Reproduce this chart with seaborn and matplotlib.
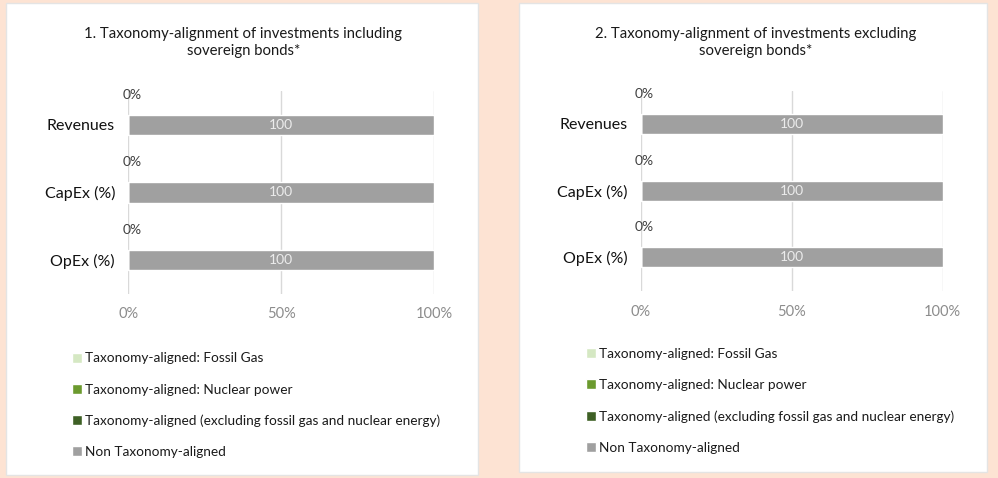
import matplotlib
matplotlib.use("Agg")
import matplotlib.pyplot as plt
import seaborn as sns
from matplotlib.patches import Rectangle

# ---------------- data ----------------
categories = ["Revenues", "CapEx (%)", "OpEx (%)"]
series_names = [
    "Taxonomy-aligned: Fossil Gas",
    "Taxonomy-aligned: Nuclear power",
    "Taxonomy-aligned (excluding fossil gas and nuclear energy)",
    "Non Taxonomy-aligned",
]
series_colors = ["#d5e8c3", "#6b9a2e", "#3e6025", "#a0a0a0"]

incl_fossil_gas = [0, 0, 0]
incl_nuclear = [0, 0, 0]
incl_aligned_excl = [0, 0, 0]
incl_non_aligned = [100, 100, 100]

excl_fossil_gas = [0, 0, 0]
excl_nuclear = [0, 0, 0]
excl_aligned_excl = [0, 0, 0]
excl_non_aligned = [100, 100, 100]

titles = [
    "1. Taxonomy-alignment of investments including\nsovereign bonds*",
    "2. Taxonomy-alignment of investments excluding\nsovereign bonds*",
]
x_ticks = [0, 50, 100]
x_tick_labels = ["0%", "50%", "100%"]

# ---------------- style ----------------
sns.set_style("white")
plt.rcParams["font.family"] = ["Lato", "DejaVu Sans"]

W, H = 998, 478
BG = "#fde3d3"
fig = plt.figure(figsize=(W / 100, H / 100), dpi=100, facecolor=BG)


def fx(px):
    return px / W


def fy(py):
    return 1 - py / H


def panel(x0, y0, x1, y1):
    r = Rectangle((fx(x0), fy(y1)), fx(x1 - x0), (y1 - y0) / H,
                  transform=fig.transFigure, facecolor="white",
                  edgecolor="#e4e4e4", lw=1.0, zorder=-10)
    fig.add_artist(r)


panel(6, 3, 478, 475)
panel(519, 3, 987, 471.5)


def draw_chart(ax, series, title, title_xy, legend_xy):
    ends = []
    run = [0] * len(categories)
    starts = []
    for s in series:
        starts.append(list(run))
        run = [a + b for a, b in zip(run, s)]
        ends.append(list(run))
    handles = {}
    for k in range(len(series) - 1, -1, -1):
        sns.barplot(x=ends[k], y=categories, orient="h", color=series_colors[k],
                    saturation=1, width=0.3, ax=ax, legend=False)
        handles[k] = ax.containers[-1]
    # value labels of the non aligned series, centred in the segment
    for i, (s0, v) in enumerate(zip(starts[3], series[3])):
        ax.text(s0 + v / 2, i, f"{v:g}", ha="center", va="center",
                color="#ececec", fontsize=10)
    # aligned (excluding) labels placed above the bars
    for i, (s0, v) in enumerate(zip(starts[2], series[2])):
        ax.annotate(f"{v:g}%", xy=(s0 + v, i - 0.47), xytext=(2.5, -1),
                    textcoords="offset points", ha="center", va="center",
                    color="#404040", fontsize=10, annotation_clip=False)
    ax.set_xlim(0, 100)
    ax.set_ylim(2.5, -0.5)
    ax.set_xticks(x_ticks)
    ax.set_xticklabels(x_tick_labels)
    ax.set_xlabel("")
    ax.set_ylabel("")
    ax.grid(axis="x", color="#d9d9d9", lw=1)
    ax.grid(axis="y", visible=False)
    ax.set_axisbelow(True)
    for sp in ax.spines.values():
        sp.set_visible(False)
    ax.tick_params(axis="x", length=0, pad=10, labelsize=10.5, labelcolor="#8c8c8c")
    ax.tick_params(axis="y", length=0, pad=9.5, labelsize=11.5, labelcolor="#111111")
    ax.patch.set_alpha(0)

    fig.text(fx(title_xy[0]), fy(title_xy[1]), title, ha="center", va="center",
             fontsize=10.7, color="#1a1a1a", linespacing=1.3, multialignment="center")

    leg = ax.legend([handles[k] for k in range(4)], series_names,
                    loc="upper left", bbox_to_anchor=(fx(legend_xy[0]), fy(legend_xy[1])),
                    bbox_transform=fig.transFigure, frameon=False, fontsize=9.8,
                    handlelength=0.72, handleheight=0.75, handletextpad=0.25,
                    labelspacing=1.4, borderpad=0, borderaxespad=0)
    for t in leg.get_texts():
        t.set_color("#1a1a1a")


ax1 = fig.add_axes([fx(128.3), fy(293.6), fx(434 - 128.3), (293.6 - 91.2) / H])
ax2 = fig.add_axes([fx(640.7), fy(290.8), fx(942.7 - 640.7), (290.8 - 90.6) / H])

draw_chart(ax1, [incl_fossil_gas, incl_nuclear, incl_aligned_excl, incl_non_aligned],
           titles[0], (243.3, 42.2), (72, 352.5))
draw_chart(ax2, [excl_fossil_gas, excl_nuclear, excl_aligned_excl, excl_non_aligned],
           titles[1], (756, 42.5), (586, 348))

fig.savefig("out.png", dpi=100, facecolor=BG)
